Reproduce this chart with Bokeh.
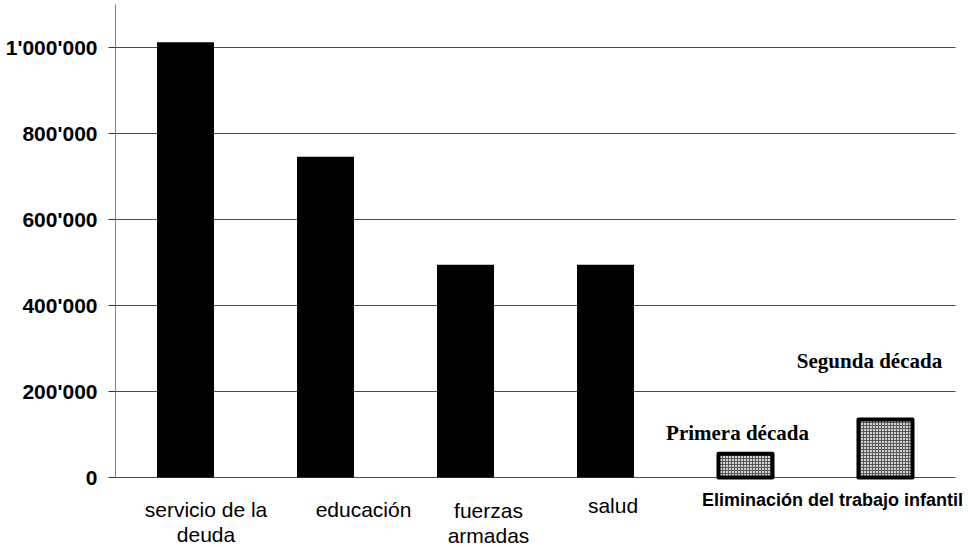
import textwrap

from bokeh.core.properties import value
from bokeh.embed import file_html
from bokeh.models import ColumnDataSource, FixedTicker, LabelSet, Range1d
from bokeh.plotting import figure
from bokeh.resources import INLINE

# Annual spending by sector
categories = ["servicio de la deuda", "educación", "fuerzas armadas", "salud"]
spending = [1012000, 746000, 495000, 495000]

# Cost of eliminating child labour, per decade
decades = ["Primera década", "Segunda década"]
child_labour_cost = [55000, 135000]
group_label = "Eliminación del trabajo infantil"

# Y axis ticks and their labels
y_ticks = [0, 200000, 400000, 600000, 800000, 1000000]
y_tick_labels = ["0", "200'000", "400'000", "600'000", "800'000", "1'000'000"]

# Label placement (pixel offsets) for each sector name
cat_dx = [20.5, 38, 23, 7.5]
cat_baseline = [39, 39, 40, 35]
line_gap = 25

# The frame runs to the bottom and right edges so that the labels under
# the bars stay inside it; axis and grid are bounded to the value range.
SLOT_PX = 140.0
Y_MAX = 1100000
PX_PER_UNIT_Y = Y_MAX / 473.0
frame_w = 968 - 115
frame_h = 547 - 4
x_lo = -0.5
x_hi = x_lo + frame_w / SLOT_PX
y_lo = Y_MAX - frame_h * PX_PER_UNIT_Y

p = figure(
    width=968, height=547,
    x_range=Range1d(x_lo, x_hi), y_range=Range1d(y_lo, Y_MAX),
    output_backend="svg", toolbar_location=None,
    min_border_left=115, min_border_right=0,
    min_border_top=4, min_border_bottom=0,
)
p.background_fill_color = "white"
p.border_fill_color = "white"
p.outline_line_color = None

p.xaxis.visible = False
p.xgrid.visible = False
p.ygrid.grid_line_color = "#4d4d4d"
p.ygrid.grid_line_width = 1
p.ygrid.bounds = (0, Y_MAX)
p.ygrid.cross_bounds = (-0.5, 5.5)

yax = p.yaxis[0]
yax.bounds = (0, Y_MAX)
yax.ticker = FixedTicker(ticks=y_ticks)
yax.major_label_overrides = {t: s for t, s in zip(y_ticks, y_tick_labels)}
yax.minor_tick_line_color = None
yax.major_tick_in = 0
yax.major_tick_out = 7
yax.major_tick_line_color = "#333333"
yax.axis_line_color = "#808080"
yax.major_label_standoff = 11
yax.major_label_text_font = "Liberation Sans"
yax.major_label_text_font_style = "bold"
yax.major_label_text_font_size = "21px"
yax.major_label_text_color = "black"

# Sector bars
sector_x = list(range(len(categories)))
p.vbar(x=sector_x, top=spending, width=0.407, fill_color="black", line_color=None)

# Child labour bars (hatched, thick outline)
decade_x = [len(categories) + i for i in range(len(decades))]
p.vbar(
    x=decade_x, top=child_labour_cost, width=0.386,
    fill_color="#d4d4d4", hatch_pattern="cross", hatch_scale=3,
    hatch_color="#585858", hatch_weight=1,
    line_color="black", line_width=4, line_join="round",
)

# Sector names under the bars, wrapped onto two lines where long
lx, ly, ldx, ldy, ltxt = [], [], [], [], []
for i, name in enumerate(categories):
    for j, line in enumerate(textwrap.wrap(name, 14)):
        lx.append(i)
        ly.append(0)
        ldx.append(cat_dx[i])
        ldy.append(-(cat_baseline[i] + j * line_gap))
        ltxt.append(line)
cat_src = ColumnDataSource(dict(x=lx, y=ly, dx=ldx, dy=ldy, text=ltxt))
p.add_layout(LabelSet(
    source=cat_src, x="x", y="y", text="text",
    x_offset="dx", y_offset="dy",
    text_align="center", text_baseline="alphabetic",
    text_font=value("Liberation Sans"), text_font_size="21px",
    text_color="black",
))

# Group label under the two hatched bars
grp_src = ColumnDataSource(dict(x=[sum(decade_x) / len(decade_x)], y=[0], text=[group_label]))
p.add_layout(LabelSet(
    source=grp_src, x="x", y="y", text="text",
    x_offset=17, y_offset=-28,
    text_align="center", text_baseline="alphabetic",
    text_font=value("Liberation Sans"), text_font_style="bold",
    text_font_size="18px", text_color="black",
))

# Decade names above the hatched bars
dec_src = ColumnDataSource(dict(
    x=decade_x, y=child_labour_cost, text=decades,
    dx=[-8, -16], dy=[14, 51.6],
))
p.add_layout(LabelSet(
    source=dec_src, x="x", y="y", text="text",
    x_offset="dx", y_offset="dy",
    text_align="center", text_baseline="alphabetic",
    text_font=value("Liberation Serif"), text_font_style="bold",
    text_font_size="21px", text_color="black",
))

open("out.html", "w").write(file_html(p, INLINE))
